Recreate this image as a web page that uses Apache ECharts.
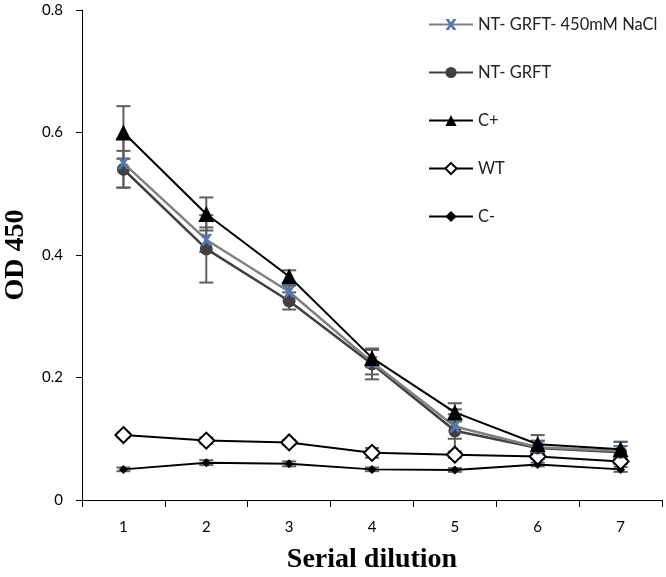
<!DOCTYPE html>
<html><head><meta charset="utf-8">
<script src="https://cdn.jsdelivr.net/npm/echarts@6/dist/echarts.min.js"></script>
<style>html,body{margin:0;padding:0;background:#fff}#c{width:666px;height:577px}</style>
</head><body><div id="c"></div>
<script>
const categories = ['1','2','3','4','5','6','7'];
const seriesNames = ['NT- GRFT- 450mM NaCl','NT- GRFT','C+','WT','C-'];
const nacl = [0.55, 0.425, 0.34, 0.225, 0.12, 0.086, 0.08];
const grft = [0.54, 0.41, 0.325, 0.222, 0.113, 0.085, 0.078];
const cpos = [0.60, 0.467, 0.365, 0.232, 0.143, 0.091, 0.083];
const wt   = [0.106, 0.097, 0.094, 0.077, 0.074, 0.071, 0.063];
const cneg = [0.05, 0.061, 0.059, 0.05, 0.049, 0.058, 0.05];
const naclErr = [0.04, 0.02, 0.01, 0.02, 0.02, 0.01, 0.015];
const grftErr = [0.03, 0.055, 0.014, 0.025, 0.035, 0.012, 0.01];
const cposErr = [0.043, 0.027, 0.01, 0.015, 0.015, 0.015, 0.012];
const wtErr   = [0.004, 0.005, 0.004, 0.008, 0.005, 0.004, 0.004];
const cnegErr = [0.003, 0.004, 0.004, 0.003, 0.003, 0.003, 0.004];
const yTicks = [0, 0.2, 0.4, 0.6, 0.8];

const chart = echarts.init(document.getElementById('c'));
function errSeries(vals, errs, z) {
  return {
    type: 'custom', z: z, silent: true,
    data: vals.map((v, i) => [i, v - errs[i], v + errs[i]]),
    renderItem: function (params, api) {
      const lo = api.coord([api.value(0), api.value(1)]);
      const hi = api.coord([api.value(0), api.value(2)]);
      const w = 7;
      const st = {stroke: '#5f5f5f', lineWidth: 2};
      return {type: 'group', children: [
        {type: 'line', shape: {x1: lo[0], y1: lo[1], x2: hi[0], y2: hi[1]}, style: st},
        {type: 'line', shape: {x1: lo[0]-w, y1: lo[1], x2: lo[0]+w, y2: lo[1]}, style: st},
        {type: 'line', shape: {x1: hi[0]-w, y1: hi[1], x2: hi[0]+w, y2: hi[1]}, style: st}
      ]};
    }
  };
}
const xPath = 'path://M0,0 L3,0 L5,3 L7,0 L10,0 L6.5,5 L10,10 L7,10 L5,7 L3,10 L0,10 L3.5,5 Z';
chart.setOption({
  animation: false,
  grid: {left: 82, top: 10, right: 4, bottom: 77, containLabel: false, outerBoundsMode: 'none'},
  legend: {
    orient: 'vertical', left: 423, top: 11, itemGap: 31,
    itemWidth: 44, itemHeight: 14,
    textStyle: {fontFamily: 'Lato', fontSize: 16.5, color: '#222'},
    data: seriesNames
  },
  xAxis: {
    type: 'category', data: categories, boundaryGap: true,
    axisLine: {lineStyle: {color: '#000', width: 1}},
    axisTick: {show: true, length: 7, lineStyle: {color: '#000'}, alignWithLabel: false},
    axisLabel: {fontFamily: 'Lato', fontSize: 15, color: '#000', margin: 20},
    name: 'Serial dilution', nameLocation: 'middle', nameGap: 46,
    nameTextStyle: {fontFamily: 'Liberation Serif', fontWeight: 'bold', fontSize: 28, color: '#000'}
  },
  yAxis: {
    type: 'value', min: 0, max: 0.8, interval: 0.2,
    axisLine: {show: true, lineStyle: {color: '#000', width: 1}},
    axisTick: {show: true, length: 6, lineStyle: {color: '#000'}},
    splitLine: {show: false},
    axisLabel: {fontFamily: 'Lato', fontSize: 15, color: '#000', margin: 19,
      formatter: v => { const t = yTicks.find(x => Math.abs(x - v) < 1e-9); return t === 0 ? '0' : String(t); }},
    name: 'OD 450', nameLocation: 'middle', nameGap: 52,
    nameTextStyle: {fontFamily: 'Liberation Serif', fontWeight: 'bold', fontSize: 28, color: '#000'}
  },
  series: [
    errSeries(cneg, cnegErr, 1),
    errSeries(wt, wtErr, 1),
    errSeries(cpos, cposErr, 1),
    errSeries(grft, grftErr, 1),
    errSeries(nacl, naclErr, 1),
    {name: 'C-', type: 'line', data: cneg, z: 3, symbol: 'diamond', symbolSize: 9,
      lineStyle: {color: '#000', width: 2}, itemStyle: {color: '#000', borderWidth: 0}},
    {name: 'WT', type: 'line', data: wt, z: 3, symbol: 'diamond', symbolSize: 16, showAllSymbol: true,
      lineStyle: {color: '#000', width: 2}, itemStyle: {color: '#fff', borderColor: '#000', borderWidth: 2}},
    {name: 'NT- GRFT', type: 'line', data: grft, z: 4, symbol: 'circle', symbolSize: 13,
      lineStyle: {color: '#404040', width: 2.5}, itemStyle: {color: '#404040', borderWidth: 0}},
    {name: 'NT- GRFT- 450mM NaCl', type: 'line', data: nacl, z: 5, symbol: xPath, symbolSize: 12,
      lineStyle: {color: '#808080', width: 2.5}, itemStyle: {color: '#5577b0', borderWidth: 0}},
    {name: 'C+', type: 'line', data: cpos, z: 6, symbol: 'triangle', symbolSize: 16,
      lineStyle: {color: '#000', width: 2}, itemStyle: {color: '#000', borderWidth: 0}}
  ]
});
</script></body></html>
